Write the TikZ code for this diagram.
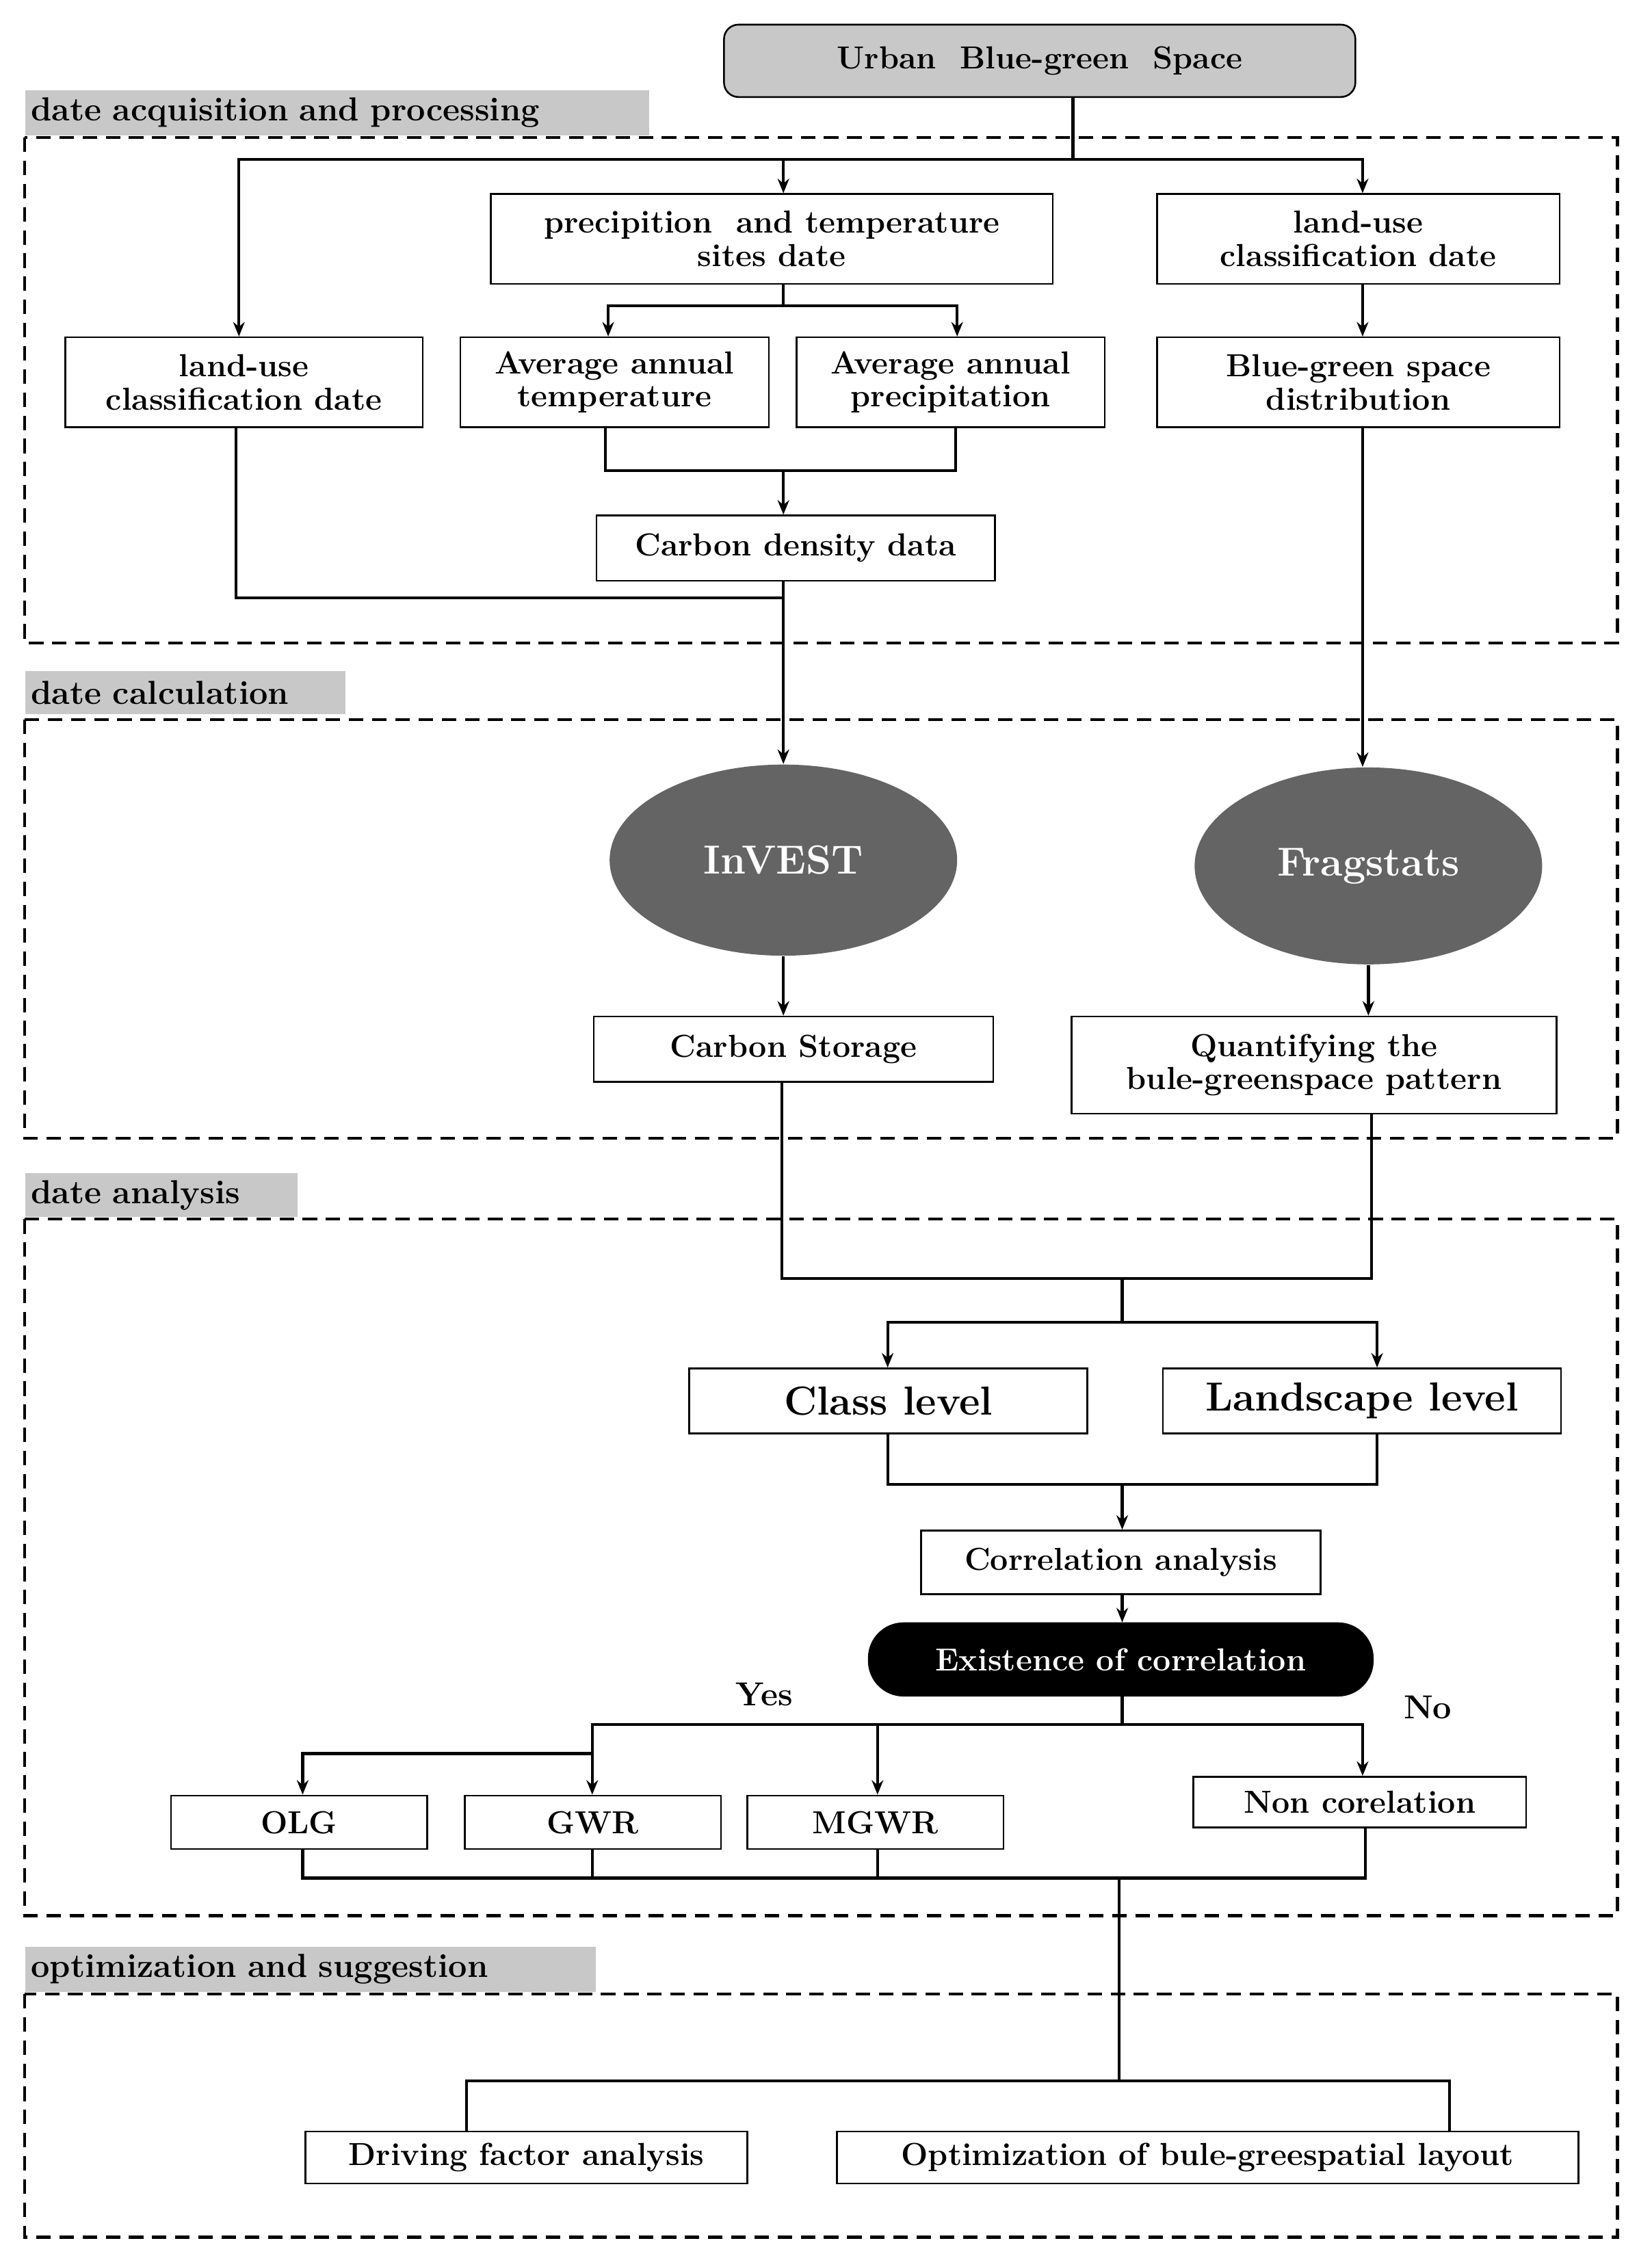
\documentclass[tikz,border=0pt]{standalone}
\usepackage{tikz}
\usetikzlibrary{arrows.meta,shapes.geometric,calc}
\definecolor{bargray}{RGB}{200,200,200}
\definecolor{ovalgray}{RGB}{100,100,100}
\tikzset{
  box/.style={draw=black, line width=0.6pt, fill=white, align=center, inner sep=1pt,
    font=\fontsize{11}{11.5}\selectfont\bfseries},
  bar/.style={fill=bargray, anchor=north west, inner xsep=2pt, inner ysep=0pt, align=left,
    font=\fontsize{11.5}{12}\selectfont\bfseries},
  frame/.style={draw=black, dashed, line width=1pt, dash pattern=on 5pt off 3pt},
  oval/.style={ellipse, fill=ovalgray, text=white, font=\fontsize{14}{14}\selectfont\bfseries},
  link/.style={line width=1pt},
  arr/.style={line width=1pt, -{Stealth[length=5pt,width=4pt]}}
}
\newcommand{\bx}[6]{\node (#1) [box, minimum width={(#4-#2)*0.5pt}, minimum height={(#5-#3)*0.5pt}] at ({(#2+#4)/2},{(#3+#5)/2}) {#6};}
\begin{document}
\begin{tikzpicture}[x=0.5pt, y=-0.5pt]
\useasboundingbox (0,0) rectangle (1140.5,1558);
% section frames
\draw [frame] (17,95) rectangle (1117,444);
\draw [frame] (17,497) rectangle (1117,786);
\draw [frame] (17,842) rectangle (1117,1323);
\draw [frame] (17,1377) rectangle (1117,1545);
\node (s1) [bar, text width=211.5pt, minimum height=15.5pt] at (17,62) {date acquisition and processing};
\node (s2) [bar, text width=106.5pt, minimum height=15pt] at (17,463) {date calculation};
\node (s3) [bar, text width=90pt, minimum height=15pt] at (17,810) {date analysis};
\node (s4) [bar, text width=193pt, minimum height=15.5pt] at (17,1344) {optimization and suggestion};
% top
\node (urban) [box, rounded corners=5pt, fill=bargray, minimum width=218pt, minimum height=25pt] at (718,42) {Urban\ \ Blue-green\ \ Space};
% acquisition
\bx{precip}{339}{134}{727}{196}{precipition\ \ and temperature\\sites date}
\bx{luR}{799}{134}{1077}{196}{land-use\\classification date}
\bx{luL}{45}{233}{292}{295}{land-use\\classification date}
\bx{avgT}{318}{233}{531}{295}{Average annual\\temperature}
\bx{avgP}{550}{233}{763}{295}{Average annual\\precipitation}
\bx{bgd}{799}{233}{1077}{295}{Blue-green space\\distribution}
\bx{cdd}{412}{356}{687}{401}{Carbon density data}
% calculation
\node (invest) [oval, minimum width=120pt, minimum height=66pt] at (541,594) {InVEST};
\node (frag) [oval, minimum width=120pt, minimum height=68pt] at (945,598) {Fragstats};
\bx{cs}{410}{702}{686}{747}{Carbon Storage}
\bx{quant}{740}{702}{1075}{769}{Quantifying the\\bule-greenspace pattern}
% analysis
\bx{cls}{476}{945}{751}{990}{\fontsize{14}{14}\selectfont Class level}
\bx{land}{803}{945}{1078}{990}{\fontsize{14}{14}\selectfont Landscape level}
\bx{corr}{636}{1057}{912}{1101}{Correlation analysis}
\node (exist) [box, fill=black, text=white, rounded corners=12pt, minimum width=174pt, minimum height=25pt] at (774,1146) {Existence of correlation};
\node (yes) [font=\fontsize{11.5}{12}\selectfont\bfseries] at (528,1170) {Yes};
\node (no) [font=\fontsize{11.5}{12}\selectfont\bfseries] at (986,1179) {No};
\bx{olg}{118}{1240}{295}{1277}{OLG}
\bx{gwr}{321}{1240}{498}{1277}{GWR}
\bx{mgwr}{516}{1240}{693}{1277}{MGWR}
\bx{non}{824}{1227}{1054}{1262}{Non corelation}
% suggestion
\bx{drive}{211}{1472}{516}{1508}{Driving factor analysis}
\bx{opt}{578}{1472}{1090}{1508}{Optimization of bule-greespatial layout}
% connectors
\coordinate (j1) at (741,110);
\coordinate (j2) at (541,211);
\coordinate (j3) at (541,325);
\coordinate (j4) at (541,413);
\coordinate (j5) at (775,883);
\coordinate (j6) at (775,913);
\coordinate (j7) at (775,1025);
\coordinate (j8) at (775,1191);
\coordinate (j9) at (409,1211);
\coordinate (j10) at (773,1297);
\coordinate (j11) at (773,1437);
\draw [link] (urban.south -| j1) -- (j1);
\draw [arr] (j1) -| (luL.north -| 165,0);
\draw [arr] (j1) -| (precip.north -| j2);
\draw [arr] (j1) -| (luR.north -| 941,0);
\draw [link] (precip.south -| j2) -- (j2);
\draw [arr] (j2) -| (avgT.north -| 420,0);
\draw [arr] (j2) -| (avgP.north -| 661,0);
\draw [arr] (luR.south -| 941,0) -- (bgd.north -| 941,0);
\draw [link] (avgT.south -| 418,0) |- (j3) -| (avgP.south -| 660,0);
\draw [arr] (j3) -- (cdd.north -| j3);
\draw [link] (luL.south -| 163,0) |- (j4);
\draw [arr] (cdd.south -| j4) -- (invest.north);
\draw [arr] (bgd.south -| 941,0) -- (frag.north -| 941,0);
\draw [arr] (invest.south) -- (cs.north -| invest.south);
\draw [arr] (frag.south) -- (quant.north -| frag.south);
\draw [link] (cs.south -| 540,0) |- (j5) -| (quant.south -| 947,0);
\draw [link] (j5) -- (j6);
\draw [arr] (j6) -| (cls.north -| 613,0);
\draw [arr] (j6) -| (land.north -| 951,0);
\draw [link] (cls.south -| 613,0) |- (j7) -| (land.south -| 951,0);
\draw [arr] (j7) -- (corr.north -| j7);
\draw [arr] (corr.south -| j7) -- (exist.north -| j7);
\draw [link] (exist.south -| j8) -- (j8);
\draw [arr] (j8) -| (gwr.north -| j9);
\draw [arr] (j8) -| (mgwr.north -| 606,0);
\draw [arr] (j8) -| (non.north -| 941,0);
\draw [arr] (j9) -| (olg.north -| 209,0);
\draw [link] (olg.south -| 209,0) |- (j10) -| (non.south -| 943,0);
\draw [link] (gwr.south -| j9) -- (j9 |- j10);
\draw [link] (mgwr.south -| 606,0) -- (606,1297);
\draw [link] (j10) -- (j11);
\draw [link] (j11) -| (drive.north -| 322,0);
\draw [link] (j11) -| (opt.north -| 1001,0);
\end{tikzpicture}
\end{document}
